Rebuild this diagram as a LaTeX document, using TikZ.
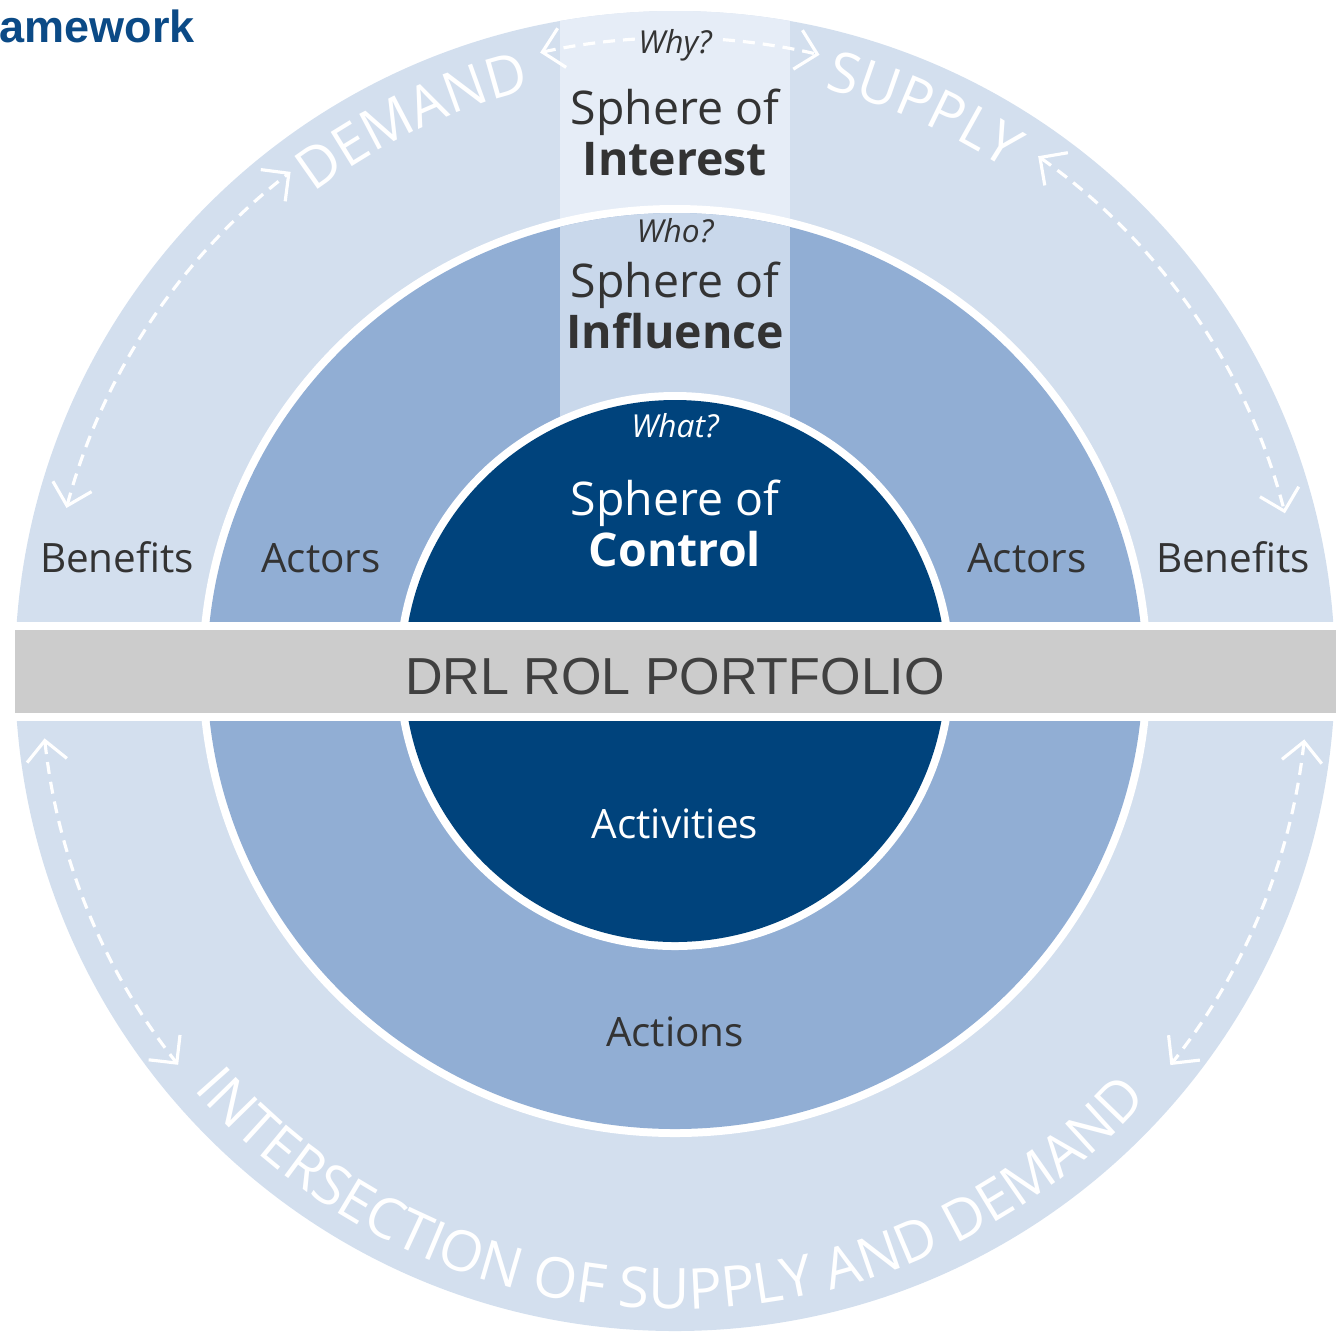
\documentclass[tikz,border=0pt]{standalone}
\usepackage{fontspec}
\setmainfont{Open Sans}
\newfontfamily\arialfont{Liberation Sans}
\usepackage{tikz}
\usetikzlibrary{arrows.meta, decorations.text}
\definecolor{outerblue}{HTML}{D3DFEE}
\definecolor{topstrip}{HTML}{E6EDF7}
\definecolor{midblue}{HTML}{91AED4}
\definecolor{midstrip}{HTML}{C9D8EB}
\definecolor{navy}{HTML}{00437C}
\definecolor{bandgrey}{HTML}{CCCCCC}
\definecolor{txtgrey}{HTML}{333333}
\definecolor{titleblue}{HTML}{0B4A86}
\def\lbl{\fontsize{11.5}{13}\selectfont}
\def\sph{\fontsize{13.2}{14.4}\selectfont}
\def\askfont{\itshape\fontsize{9}{10}\selectfont}
\def\arcfont{\fontsize{16}{18}\selectfont}
\tikzstyle{lab} = [anchor=base, text=txtgrey, font=\lbl, inner sep=0pt]
\tikzstyle{sph} = [anchor=base, align=center, text=txtgrey, font=\sph, inner sep=0pt]
\tikzstyle{ask} = [anchor=base, text=txtgrey, font=\askfont, inner sep=1pt]
\tikzstyle{flow} = [white, line width=0.9pt, dash pattern=on 1.2mm off 0.8mm, {Straight Barb[length=2mm,width=4mm]}-{Straight Barb[length=2mm,width=4mm]}]

\begin{document}
\begin{tikzpicture}[x=0.01cm, y=0.01cm]
\useasboundingbox (-675,-661) rectangle (668,671);
\fill[outerblue] (0,0) circle[radius=660];
\begin{scope}
\clip (0,0) circle[radius=660];
\fill[topstrip] (-115,0) rectangle (115,671);
\end{scope}
\fill[white] (0,0) ellipse[x radius=476, y radius=466];
\fill[midblue] (0,0) ellipse[x radius=468, y radius=458];
\begin{scope}
\clip (0,0) ellipse[x radius=468, y radius=458];
\fill[midstrip] (-115,0) rectangle (115,466);
\end{scope}
\fill[white] (0,0) circle[radius=279];
\fill[navy] (0,0) circle[radius=271];
\fill[white] (-661,49) rectangle (661,-50);
\fill[bandgrey] (-660,41) rectangle (661,-42);
\node (band) [anchor=base, inner sep=0pt, text=black!75, font=\arialfont\fontsize{14.8}{16}\selectfont] at (0,-23) {DRL ROL PORTFOLIO};
\node (title) [anchor=base west, inner sep=0pt, text=titleblue, font=\arialfont\bfseries\fontsize{12.8}{14}\selectfont] at (-676,629) {amework};
\draw[flow] (102.3:633) arc[start angle=102.3, end angle=76.8, radius=633];
\node (why) [ask, fill=topstrip] at (0,618) {Why?};
\node (interest) [sph] at (0,496) {Sphere of\\\textbf{Interest}};
\node (who) [ask] at (0,429) {Who?};
\node (influence) [sph] at (0,323) {Sphere of\\\textbf{Influence}};
\node (what) [ask, text=white] at (0,234) {What?};
\node (control) [sph, text=white] at (0,105) {Sphere of\\\textbf{Control}};
\node (benefitsL) [lab] at (-558,99) {Benefits};
\node (actorsL) [lab] at (-354,99) {Actors};
\node (actorsR) [lab] at (352,99) {Actors};
\node (benefitsR) [lab] at (558,99) {Benefits};
\node (activities) [lab, text=white] at (0,-167) {Activities};
\node (actions) [lab] at (0,-375) {Actions};
\draw[flow] (165:630) arc[start angle=165, end angle=127.6, radius=630];
\draw[flow] (54.8:630) arc[start angle=54.8, end angle=14.5, radius=630];
\draw[flow] (186.1:634) arc[start angle=186.1, end angle=218.4, radius=634];
\draw[flow] (-6.2:633) arc[start angle=-6.2, end angle=-38.5, radius=633];
\path[decorate, decoration={text along path, text align=center, text color=white, text={|\arcfont|DEMAND}}] (150:599) arc[start angle=150, end angle=81, radius=599];
\path[decorate, decoration={text along path, text align=center, text color=white, text={|\arcfont|SUPPLY}}] (100:601) arc[start angle=100, end angle=32.2, radius=601];
\path[decorate, decoration={text along path, text align=center, text color=white, text={|\arcfont|INTERSECTION OF SUPPLY AND DEMAND}}] (200:638) arc[start angle=200, end angle=338.8, radius=638];
\end{tikzpicture}
\end{document}
